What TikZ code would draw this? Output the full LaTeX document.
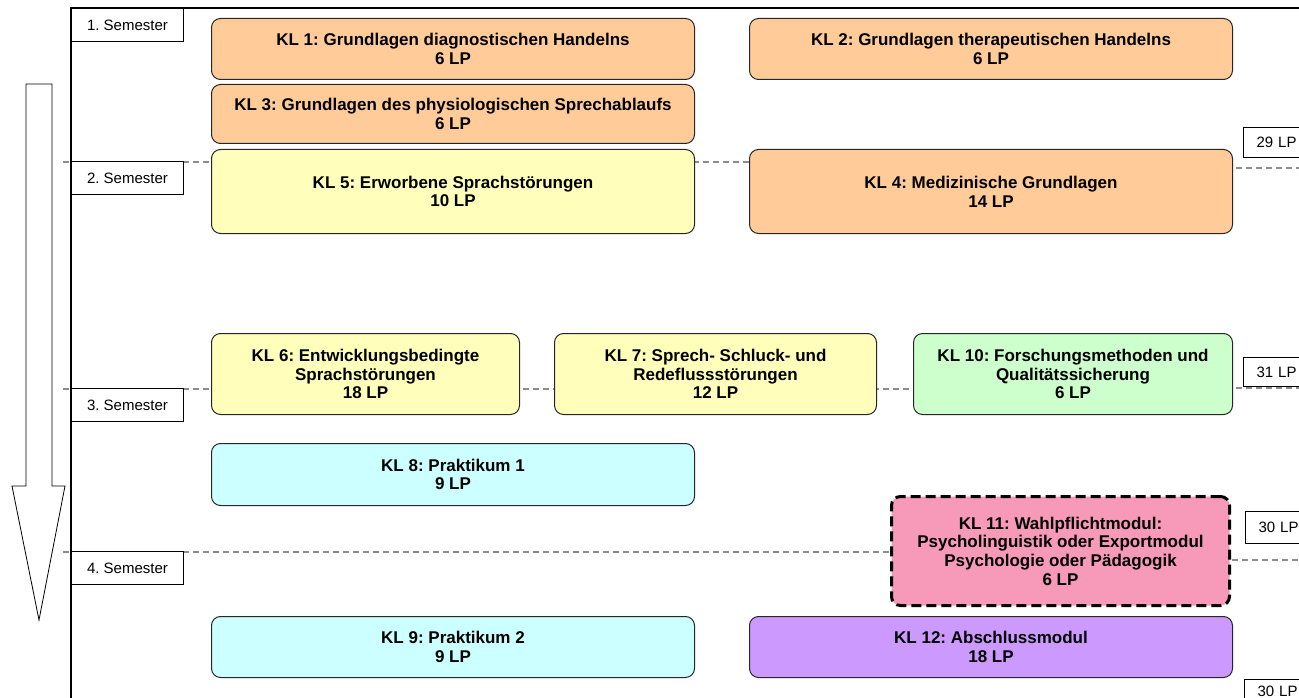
\documentclass[tikz,border=0pt]{standalone}
\usepackage{fontspec}
\setmainfont{Liberation Sans}
\frenchspacing
\definecolor{cOr}{HTML}{FFCC99}
\definecolor{cYe}{HTML}{FFFFBB}
\definecolor{cGr}{HTML}{CCFFCC}
\definecolor{cCy}{HTML}{CCFFFF}
\definecolor{cPk}{HTML}{F799B8}
\definecolor{cPu}{HTML}{CC99FF}
\definecolor{cSep}{HTML}{8C8C8C}
\begin{document}
\begin{tikzpicture}[x=1pt,y=-1pt,
  kl/.style={draw=black!85, line width=1pt, rounded corners=9pt, anchor=north west,
    inner sep=0pt, align=center, font=\fontsize{17}{18.7}\selectfont\bfseries},
  sem/.style={draw=black, line width=1pt, fill=white, anchor=north west, inner sep=0pt,
    minimum width=112pt, minimum height=33pt, font=\fontsize{15}{17}\selectfont},
  lp/.style={draw=black, line width=1pt, fill=white, anchor=north west, inner xsep=13pt,
    inner ysep=0pt, text width=50pt, align=left, font=\fontsize{15}{17}\selectfont},
  sepline/.style={draw=cSep, line width=1.5pt, dash pattern=on 6pt off 4pt},
  wahl/.style={draw=black, line width=3pt, dash pattern=on 10pt off 5pt}
]
\useasboundingbox (0,0) rectangle (1299,698);
\clip (0,0) rectangle (1299,698);

% semester separators
\coordinate (s2a) at (63,162);  \coordinate (s2b) at (1232,162);
\coordinate (s2c) at (1236,168); \coordinate (s2d) at (1299,168);
\coordinate (s3a) at (63,389);  \coordinate (s3b) at (1232,389);
\coordinate (s3c) at (1236,388); \coordinate (s3d) at (1299,388);
\coordinate (s4a) at (63,552);  \coordinate (s4b) at (1228,552);
\coordinate (s4c) at (1232,560); \coordinate (s4d) at (1299,560);
\draw[sepline] (s2a) -- (s2b);
\draw[sepline] (s2c) -- (s2d);
\draw[sepline] (s3a) -- (s3b);
\draw[sepline] (s3c) -- (s3d);
\draw[sepline] (s4a) -- (s4b);
\draw[sepline] (s4c) -- (s4d);

% frame
\coordinate (fb) at (71,698); \coordinate (ft) at (71,8); \coordinate (fr) at (1299,8);
\draw[line width=1.2pt] (fb) -- (ft) -- (fr);

% time arrow
\draw[line width=0.8pt, fill=white] (26,84) -- (52,84) -- (52,486) -- (65,486) -- (39,620)
  -- (12,486) -- (26,486) -- cycle;

% semester labels
\node[sem] (sem1) at (71,8)   {1. Semester};
\node[sem] (sem2) at (71,161) {2. Semester};
\node[sem] (sem3) at (71,388) {3. Semester};
\node[sem] (sem4) at (71,551) {4. Semester};

% LP labels
\node[lp, minimum height=30pt] (lp1) at (1243,127) {29 LP};
\node[lp, minimum height=29pt] (lp2) at (1243,357) {31 LP};
\node[lp, minimum height=32pt] (lp3) at (1245,511) {30 LP};
\node[lp, minimum height=24pt] (lp4) at (1244,679) {30 LP};

% modules
\node[kl, fill=cOr, minimum width=483pt, minimum height=61pt] (kl1) at (211,18)
  {KL 1: Grundlagen diagnostischen Handelns\\6 LP};
\node[kl, fill=cOr, minimum width=483pt, minimum height=61pt] (kl2) at (749,18)
  {KL 2: Grundlagen therapeutischen Handelns\\6 LP};
\node[kl, fill=cOr, minimum width=483pt, minimum height=59pt] (kl3) at (211,84)
  {KL 3: Grundlagen des physiologischen Sprechablaufs\\6 LP};
\node[kl, fill=cYe, minimum width=483pt, minimum height=84pt] (kl5) at (211,149)
  {KL 5: Erworbene Sprachstörungen\\10 LP};
\node[kl, fill=cOr, minimum width=483pt, minimum height=84pt] (kl4) at (749,149)
  {KL 4: Medizinische Grundlagen\\14 LP};
\node[kl, fill=cYe, minimum width=308pt, minimum height=81pt] (kl6) at (211,333)
  {KL 6: Entwicklungsbedingte\\Sprachstörungen\\18 LP};
\node[kl, fill=cYe, minimum width=322pt, minimum height=81pt] (kl7) at (554,333)
  {KL 7: Sprech- Schluck- und\\Redeflussstörungen\\12 LP};
\node[kl, fill=cGr, minimum width=319pt, minimum height=81pt] (kl10) at (913,333)
  {KL 10: Forschungsmethoden und\\Qualitätssicherung\\6 LP};
\node[kl, fill=cCy, minimum width=483pt, minimum height=62pt] (kl8) at (211,443)
  {KL 8: Praktikum 1\\9 LP};
\node[kl, wahl, fill=cPk, minimum width=338pt, minimum height=109pt] (kl11) at (890,495)
  {KL 11: Wahlpflichtmodul:\\Psycholinguistik oder Exportmodul\\Psychologie oder Pädagogik\\6 LP};
\node[kl, fill=cCy, minimum width=483pt, minimum height=61pt] (kl9) at (211,616)
  {KL 9: Praktikum 2\\9 LP};
\node[kl, fill=cPu, minimum width=483pt, minimum height=61pt] (kl12) at (749,616)
  {KL 12: Abschlussmodul\\18 LP};
\end{tikzpicture}
\end{document}
